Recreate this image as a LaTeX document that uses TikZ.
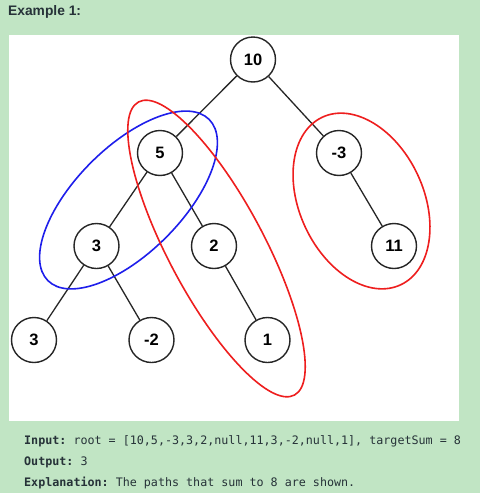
\documentclass[tikz,border=0pt]{standalone}
\usepackage{fontspec}
\setmainfont{Liberation Sans}
\newfontfamily\monofont{DejaVu Sans Mono}
\definecolor{bggreen}{RGB}{193,229,196}
\definecolor{txt}{RGB}{38,50,56}
\definecolor{redc}{RGB}{238,30,30}
\definecolor{bluec}{RGB}{30,30,235}
\begin{document}
\begin{tikzpicture}[x=1pt,y=-1pt,
  tnode/.style={circle,draw=black!85,line width=1.4pt,fill=white,minimum size=45pt,inner sep=0pt,font=\fontsize{16.5}{18}\selectfont\bfseries},
  edge/.style={draw=black!85,line width=1.3pt},
  ring/.style={line width=1.6pt},
  mono/.style={anchor=west,inner sep=0pt,text=txt,font=\frenchspacing\monofont\fontsize{11.7}{14}\selectfont}]
\useasboundingbox (0,0) rectangle (480,493);
\fill[bggreen] (0,0) rectangle (480,493);
\fill[white] (9,35) rectangle (459,421);
\node[anchor=west,inner sep=0pt,text=txt,font=\fontsize{13.8}{15}\selectfont\bfseries] (title) at (8,12) {Example 1:};
% nodes
\node[tnode] (n10) at (253,59.5) {10};
\node[tnode] (n5) at (160,153) {5};
\node[tnode] (nm3) at (339,153) {-3};
\node[tnode] (n3a) at (96.5,246) {3};
\node[tnode] (n2) at (214,246) {2};
\node[tnode] (n11) at (394,246) {11};
\node[tnode] (n3b) at (34,340) {3};
\node[tnode] (nm2) at (151.5,340) {-2};
\node[tnode] (n1) at (267.5,340) {1};
% edges
\draw[edge] (n10) -- (n5);
\draw[edge] (n10) -- (nm3);
\draw[edge] (n5) -- (n3a);
\draw[edge] (n5) -- (n2);
\draw[edge] (nm3) -- (n11);
\draw[edge] (n3a) -- (n3b);
\draw[edge] (n3a) -- (nm2);
\draw[edge] (n2) -- (n1);
% ellipses
\draw[ring,bluec,shift={(128.5,200)},rotate=45] (0,0) ellipse [x radius=114pt,y radius=53pt];
\draw[ring,redc,shift={(216.5,248.5)},rotate=-62] (0,0) ellipse [x radius=166pt,y radius=48pt];
\draw[ring,redc,shift={(361.5,201)},rotate=-65] (0,0) ellipse [x radius=92.5pt,y radius=62pt];
% text
\node[mono] (l1) at (24,441.5) {\textbf{Input:} root = [10,5,-3,3,2,null,11,3,-2,null,1], targetSum = 8};
\node[mono] (l2) at (24,462.5) {\textbf{Output:} 3};
\node[mono] (l3) at (24,483) {\textbf{Explanation:} The paths that sum to 8 are shown.};
\end{tikzpicture}
\end{document}
